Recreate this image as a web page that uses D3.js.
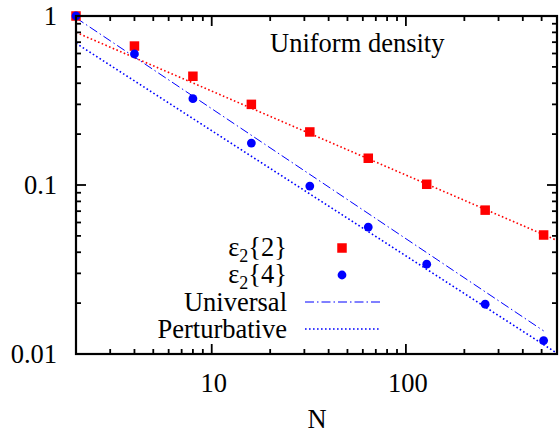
<!DOCTYPE html>
<html>
<head>
<meta charset="utf-8">
<script src="https://cdn.jsdelivr.net/npm/d3@7"></script>
</head>
<body style="margin:0">
<svg id="chart" width="559" height="432"></svg>
<script>
// ---- data ----
const N = [2, 4, 8, 16, 32, 64, 128, 256, 512];
const eps2_2 = [1.0, 0.664, 0.44, 0.30, 0.206, 0.144, 0.101, 0.071, 0.0506];
const eps2_4 = [1.0, 0.596, 0.324, 0.177, 0.0986, 0.0564, 0.034, 0.0197, 0.012];
// fit lines (endpoints)
const fit2N = [2, 600];
const fit2V = [0.80, 0.047];
const universalN = [2, 512];
const universalV = [0.975, 0.0137];
const perturbN = [2, 600];
const perturbV = [0.69, 0.0101];
const xTickLabels = [10, 100];
const yTickLabels = ["1", "0.1", "0.01"];
const yTickValues = [1, 0.1, 0.01];
const legendLabels = ["ε2{2}", "ε2{4}", "Universal", "Perturbative"];

// ---- layout ----
const FONT = '"Liberation Serif"';
const FS = "26.5px";
const margin = {left: 76, top: 16, right: 557, bottom: 354};
const svg = d3.select("#chart");
const x = d3.scaleLog().domain([2, 600]).range([margin.left, margin.right]);
const y = d3.scaleLog().domain([0.01, 1]).range([margin.bottom, margin.top]);

function txt(parent, xx, yy, anchor, s) {
  const t = parent.append("text").attr("x", xx).attr("y", yy).attr("text-anchor", anchor)
    .style("font-family", FONT).style("font-size", FS);
  if (s !== null) t.text(s);
  return t;
}

const clipId = "plotclip";
svg.append("defs").append("clipPath").attr("id", clipId)
  .append("rect").attr("x", margin.left).attr("y", margin.top)
  .attr("width", margin.right - margin.left).attr("height", margin.bottom - margin.top);

const plot = svg.append("g").attr("clip-path", `url(#${clipId})`);
const line = d3.line().x(d => x(d[0])).y(d => y(d[1]));

plot.append("path").datum(d3.zip(fit2N, fit2V)).attr("d", line)
  .attr("fill", "none").attr("stroke", "#f00").attr("stroke-width", 1.6)
  .attr("stroke-dasharray", "1.6,2.4");
plot.append("path").datum(d3.zip(universalN, universalV)).attr("d", line)
  .attr("fill", "none").attr("stroke", "#00f").attr("stroke-width", 1)
  .attr("stroke-dasharray", "9,3,1.5,3");
plot.append("path").datum(d3.zip(perturbN, perturbV)).attr("d", line)
  .attr("fill", "none").attr("stroke", "#00f").attr("stroke-width", 1.6)
  .attr("stroke-dasharray", "1.6,2.4");

const sq = 9.5;
svg.append("g").selectAll("rect").data(d3.zip(N, eps2_2)).join("rect")
  .attr("x", d => x(d[0]) - sq / 2).attr("y", d => y(d[1]) - sq / 2)
  .attr("width", sq).attr("height", sq).attr("fill", "#f00");
svg.append("g").selectAll("circle").data(d3.zip(N, eps2_4)).join("circle")
  .attr("cx", d => x(d[0])).attr("cy", d => y(d[1])).attr("r", 4.4)
  .attr("fill", "#00f");

const major = 10, minor = 5;
const axG = svg.append("g").attr("stroke", "#000").attr("stroke-width", 1.8);
const xTicks = [];
for (let d = 1; d <= 100; d *= 10) for (let k = 1; k <= 9; k++) {
  const v = d * k; if (v >= 2 && v <= 600) xTicks.push(v);
}
xTicks.forEach(v => {
  const len = (v === 10 || v === 100) ? major : minor;
  axG.append("line").attr("x1", x(v)).attr("x2", x(v)).attr("y1", margin.bottom).attr("y2", margin.bottom - len);
  axG.append("line").attr("x1", x(v)).attr("x2", x(v)).attr("y1", margin.top).attr("y2", margin.top + len);
});
const yTicks = [];
for (let d = 0.01; d < 1; d *= 10) for (let k = 1; k <= 9; k++) yTicks.push(d * k);
yTicks.push(1);
yTicks.forEach(v => {
  const isMajor = yTickValues.some(t => Math.abs(t - v) < 1e-9);
  const len = isMajor ? major : minor;
  axG.append("line").attr("y1", y(v)).attr("y2", y(v)).attr("x1", margin.left).attr("x2", margin.left + len);
  axG.append("line").attr("y1", y(v)).attr("y2", y(v)).attr("x1", margin.right).attr("x2", margin.right - len);
});
svg.append("rect").attr("x", margin.left).attr("y", margin.top)
  .attr("width", margin.right - margin.left).attr("height", margin.bottom - margin.top)
  .attr("fill", "none").attr("stroke", "#000").attr("stroke-width", 2.2);

xTickLabels.forEach(v => txt(svg, x(v) + 2, 392, "middle", String(v)));
yTickValues.forEach((v, i) => txt(svg, 57, y(v) + 9, "end", yTickLabels[i]));
txt(svg, 317, 428, "middle", "N");
txt(svg, 270, 52, "start", "Uniform density");

const lx = 287, rowY = [248, 275, 302, 329];
const leg = svg.append("g");
[0, 1].forEach(i => {
  const t = txt(leg, lx, rowY[i] + 8, "end", null);
  t.append("tspan").text(legendLabels[i].slice(0, 1));
  t.append("tspan").style("font-size", "18px").attr("dy", 6).text(legendLabels[i].slice(1, 2));
  t.append("tspan").attr("dy", -6).text(legendLabels[i].slice(2));
});
[2, 3].forEach(i => txt(leg, lx, rowY[i] + 9, "end", legendLabels[i]));
leg.append("rect").attr("x", 342 - sq / 2).attr("y", rowY[0] - sq / 2).attr("width", sq).attr("height", sq).attr("fill", "#f00");
leg.append("circle").attr("cx", 342).attr("cy", rowY[1]).attr("r", 4.4).attr("fill", "#00f");
leg.append("line").attr("x1", 305).attr("x2", 381).attr("y1", rowY[2]).attr("y2", rowY[2])
  .attr("stroke", "#00f").attr("stroke-width", 1).attr("stroke-dasharray", "9,3,1.5,3");
leg.append("line").attr("x1", 305).attr("x2", 381).attr("y1", rowY[3]).attr("y2", rowY[3])
  .attr("stroke", "#00f").attr("stroke-width", 1.6).attr("stroke-dasharray", "1.6,2.4");
</script>
</body>
</html>
